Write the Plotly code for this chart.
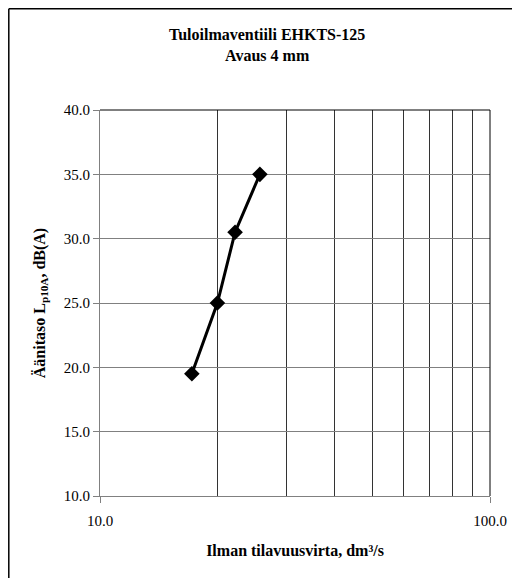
import plotly.graph_objects as go

# Data
flow = [17.2, 20.0, 22.2, 25.7]          # Ilman tilavuusvirta, dm3/s
level = [19.5, 25.0, 30.5, 35.0]         # Äänitaso Lp10A, dB(A)
x_major = [10, 100]
x_major_text = ["10.0", "100.0"]
x_minor = [20, 30, 40, 50, 60, 70, 80, 90]
y_ticks = [10, 15, 20, 25, 30, 35, 40]

title_text = "<b>Tuloilmaventiili EHKTS-125<br>Avaus 4 mm</b>"
x_title = "<b>Ilman tilavuusvirta, dm³/s</b>"
y_title = "<b>Äänitaso L<sub>p10A</sub>, dB(A)</b>"

FONT = "Liberation Serif, DejaVu Serif, Times New Roman, serif"

# page body has an 8px margin; figure is sized to fit the 520x578 window
OFF = 8
W, H = 520 - OFF, 578 - OFF
L, T = 100 - OFF, 110 - OFF
R = 30
B = 82
pw = W - L - R
ph = H - T - B

def px_x(p):
    # window pixel -> paper coordinate
    return (p - OFF - L) / pw

def px_y(p):
    return 1 - (p - OFF - T) / ph

fig = go.Figure()
fig.add_trace(go.Scatter(
    x=flow, y=level, mode="lines+markers",
    line=dict(color="black", width=3),
    marker=dict(symbol="diamond", size=12, color="black"),
    showlegend=False,
))

fig.update_layout(
    width=W, height=H,
    margin=dict(l=L, r=R, t=T, b=B, pad=0),
    paper_bgcolor="white", plot_bgcolor="white",
    font=dict(family=FONT, size=15, color="black"),
    xaxis=dict(
        type="log", range=[1, 2],
        tickmode="array", tickvals=x_major, ticktext=x_major_text,
        ticks="outside", ticklen=6, tickcolor="#808080",
        ticklabelstandoff=5,
        showgrid=True, gridcolor="#222222", gridwidth=1,
        showline=True, linecolor="#808080", linewidth=1,
        zeroline=False,
        minor=dict(tickvals=x_minor, showgrid=True, gridcolor="#333333", ticks=""),
        title=dict(text=x_title, font=dict(size=16, family=FONT), standoff=16),
        tickfont=dict(size=15, family=FONT),
    ),
    yaxis=dict(
        range=[10, 40], tickmode="array", tickvals=y_ticks, tickformat=".1f",
        ticks="outside", ticklen=6, tickcolor="#808080",
        showgrid=True, gridcolor="#808080", gridwidth=1,
        showline=True, linecolor="#808080", linewidth=1,
        zeroline=False,
        title=dict(text=y_title, font=dict(size=16, family=FONT), standoff=14),
        tickfont=dict(size=15, family=FONT),
    ),
    shapes=[
        dict(type="line", xref="paper", yref="paper", x0=0, x1=1, y0=1, y1=1,
             line=dict(color="black", width=1)),
        dict(type="line", xref="paper", yref="paper", x0=1, x1=1, y0=0, y1=1,
             line=dict(color="black", width=1)),
        dict(type="line", xref="paper", yref="paper",
             x0=px_x(OFF + 0.8), x1=px_x(OFF + 0.8), y0=px_y(OFF + 0.8), y1=px_y(640),
             line=dict(color="black", width=1.5)),
        dict(type="line", xref="paper", yref="paper",
             x0=px_x(OFF + 0.8), x1=px_x(600), y0=px_y(OFF + 0.8), y1=px_y(OFF + 0.8),
             line=dict(color="black", width=1.5)),
    ],
    annotations=[
        dict(text=title_text, xref="paper", yref="paper",
             x=px_x(267), y=px_y(24), xanchor="center", yanchor="top",
             showarrow=False, font=dict(size=16, family=FONT)),
    ],
)

fig.write_html("out.html")
